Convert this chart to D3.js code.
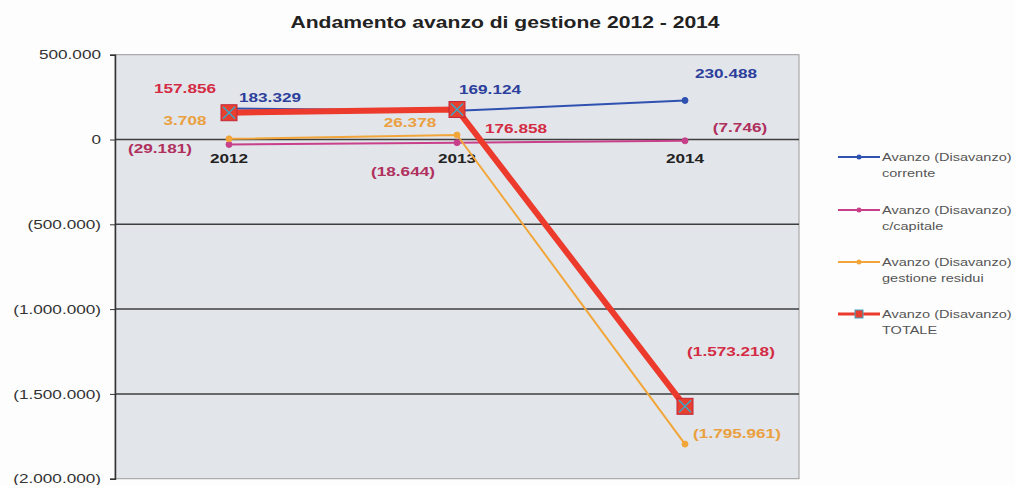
<!DOCTYPE html>
<html><head><meta charset="utf-8">
<script src="https://cdn.jsdelivr.net/npm/d3@7"></script>
<style>
body{margin:0;background:#fdfdfd;}
svg{display:block;font-family:Arial,"Liberation Sans",sans-serif;}
</style></head>
<body>
<svg id="c" width="1015" height="485"></svg>
<script>
const categories = ["2012", "2013", "2014"];
const corrente = [183329, 169124, 230488];
const capitale = [-29181, -18644, -7746];
const residui = [3708, 26378, -1795961];
const totale = [157856, 176858, -1573218];
const yTicks = [500000, 0, -500000, -1000000, -1500000, -2000000];
const seriesNames = [
  ["Avanzo (Disavanzo)", "corrente"],
  ["Avanzo (Disavanzo)", "c/capitale"],
  ["Avanzo (Disavanzo)", "gestione residui"],
  ["Avanzo (Disavanzo)", "TOTALE"]
];

// styling (not data)
const SX = 1.32; // horizontal stretch of the scanned text
const styles = [
  {line:"#2f52b0", label:"#2c3f9c", w:2},
  {line:"#c8408a", label:"#b0305e", w:2},
  {line:"#f2a63a", label:"#eaa040", w:2},
  {line:"#ec3a2c", label:"#d42c44", w:6}
];
const labelOffsets = [
  [[41,-11],[33,-22],[41,-27]],
  [[-69,4],[-54,28],[55,-14]],
  [[-44,-19],[-47,-13],[52,-11]],
  [[-44,-25],[59,18],[46,-55]]
];

const svg = d3.select("#c");
const L = 115, R = 799, T = 54.7, B = 478.7;
const x = d3.scalePoint().domain(categories).range([L, R]).padding(0.5);
const y = d3.scaleLinear().domain([-2000000, 500000]).range([B, T]);

const fmtN = v => {
  const s = d3.format(",")(Math.abs(v)).replace(/,/g, ".");
  return v < 0 ? "(" + s + ")" : s;
};

function stext(parent, px, py, str) {
  return parent.append("text").attr("transform", `translate(${px},${py}) scale(${SX},1)`).text(str);
}

stext(svg, 505, 28, "Andamento avanzo di gestione 2012 - 2014")
  .attr("text-anchor", "middle").attr("font-size", 16).attr("font-weight", "bold").attr("fill", "#222");

svg.append("rect").attr("x", L).attr("y", T).attr("width", R - L).attr("height", B - T)
  .attr("fill", "#e2e5ea").attr("stroke", "#9a9a9a").attr("stroke-width", 1);

// gridlines
svg.append("g").selectAll("line").data(yTicks.filter(t => t < 500000 && t > -2000000)).join("line")
  .attr("x1", L).attr("x2", R).attr("y1", d => y(d)).attr("y2", d => y(d))
  .attr("stroke", "#3e3e3e").attr("stroke-width", 1.5);

// y axis
const yAxis = d3.axisLeft(y).tickValues(yTicks).tickFormat(fmtN).tickSize(5).tickPadding(6);
const ga = svg.append("g").attr("transform", `translate(${L},0)`).call(yAxis);
ga.select(".domain").attr("stroke", "#333").attr("stroke-width", 1.5);
ga.selectAll(".tick line").attr("stroke", "#333");
ga.selectAll(".tick text").each(function() {
  const t = d3.select(this);
  const tx = +t.attr("x") - 3;
  t.attr("x", null).attr("dy", "0.32em")
   .attr("transform", `translate(${tx},0) scale(${SX},1)`);
});
ga.selectAll("text").attr("font-size", 13).attr("fill", "#333").attr("font-family", "Arial, 'Liberation Sans', sans-serif");

// x category labels at zero line
const gc = svg.append("g");
categories.forEach(c => {
  stext(gc, x(c), y(0) + 23, c).attr("text-anchor", "middle")
    .attr("font-size", 13).attr("font-weight", "bold").attr("fill", "#222");
});

const allSeries = [corrente, capitale, residui, totale];
const line = d3.line().x((d, i) => x(categories[i])).y(d => y(d));

allSeries.forEach((vals, si) => {
  const st = styles[si];
  svg.append("path").datum(vals).attr("d", line).attr("fill", "none")
    .attr("stroke", st.line).attr("stroke-width", st.w).attr("stroke-linejoin", "round");
});

allSeries.forEach((vals, si) => {
  const st = styles[si];
  const g = svg.append("g");
  vals.forEach((v, i) => {
    const cx = x(categories[i]), cy = y(v);
    if (si === 3) {
      g.append("rect").attr("x", cx - 8).attr("y", cy - 8).attr("width", 16).attr("height", 16)
        .attr("fill", "#e8402e").attr("stroke", "#c4283a").attr("stroke-width", 1);
      g.append("path").attr("d", `M${cx-6},${cy-6}L${cx+6},${cy+6}M${cx+6},${cy-6}L${cx-6},${cy+6}`)
        .attr("stroke", "#3aa6c8").attr("stroke-width", 1.5);
    } else {
      g.append("circle").attr("cx", cx).attr("cy", cy).attr("r", 3)
        .attr("fill", st.line).attr("stroke", st.line);
    }
  });
});

allSeries.forEach((vals, si) => {
  const st = styles[si];
  const g = svg.append("g");
  vals.forEach((v, i) => {
    stext(g, x(categories[i]) + labelOffsets[si][i][0], y(v) + labelOffsets[si][i][1] + 5, fmtN(v))
      .attr("text-anchor", "middle").attr("font-size", 13).attr("font-weight", "bold")
      .attr("fill", st.label);
  });
});

// legend
const legY = [157, 210, 262, 314];
seriesNames.forEach((nm, si) => {
  const st = styles[si];
  const g = svg.append("g").attr("transform", `translate(838,${legY[si]})`);
  g.append("line").attr("x1", 0).attr("x2", 42).attr("y1", 0).attr("y2", 0)
    .attr("stroke", st.line).attr("stroke-width", si === 3 ? 3 : 2);
  if (si === 3) {
    g.append("rect").attr("x", 17).attr("y", -4).attr("width", 8).attr("height", 8)
      .attr("fill", "#e8402e").attr("stroke", "#3aa6c8").attr("stroke-width", 1);
  } else {
    g.append("circle").attr("cx", 21).attr("cy", 0).attr("r", 2.5).attr("fill", st.line);
  }
  stext(g, 44, 4, nm[0]).attr("font-size", 11).attr("fill", "#555");
  stext(g, 44, 20, nm[1]).attr("font-size", 11).attr("fill", "#555");
});
</script>
</body></html>
